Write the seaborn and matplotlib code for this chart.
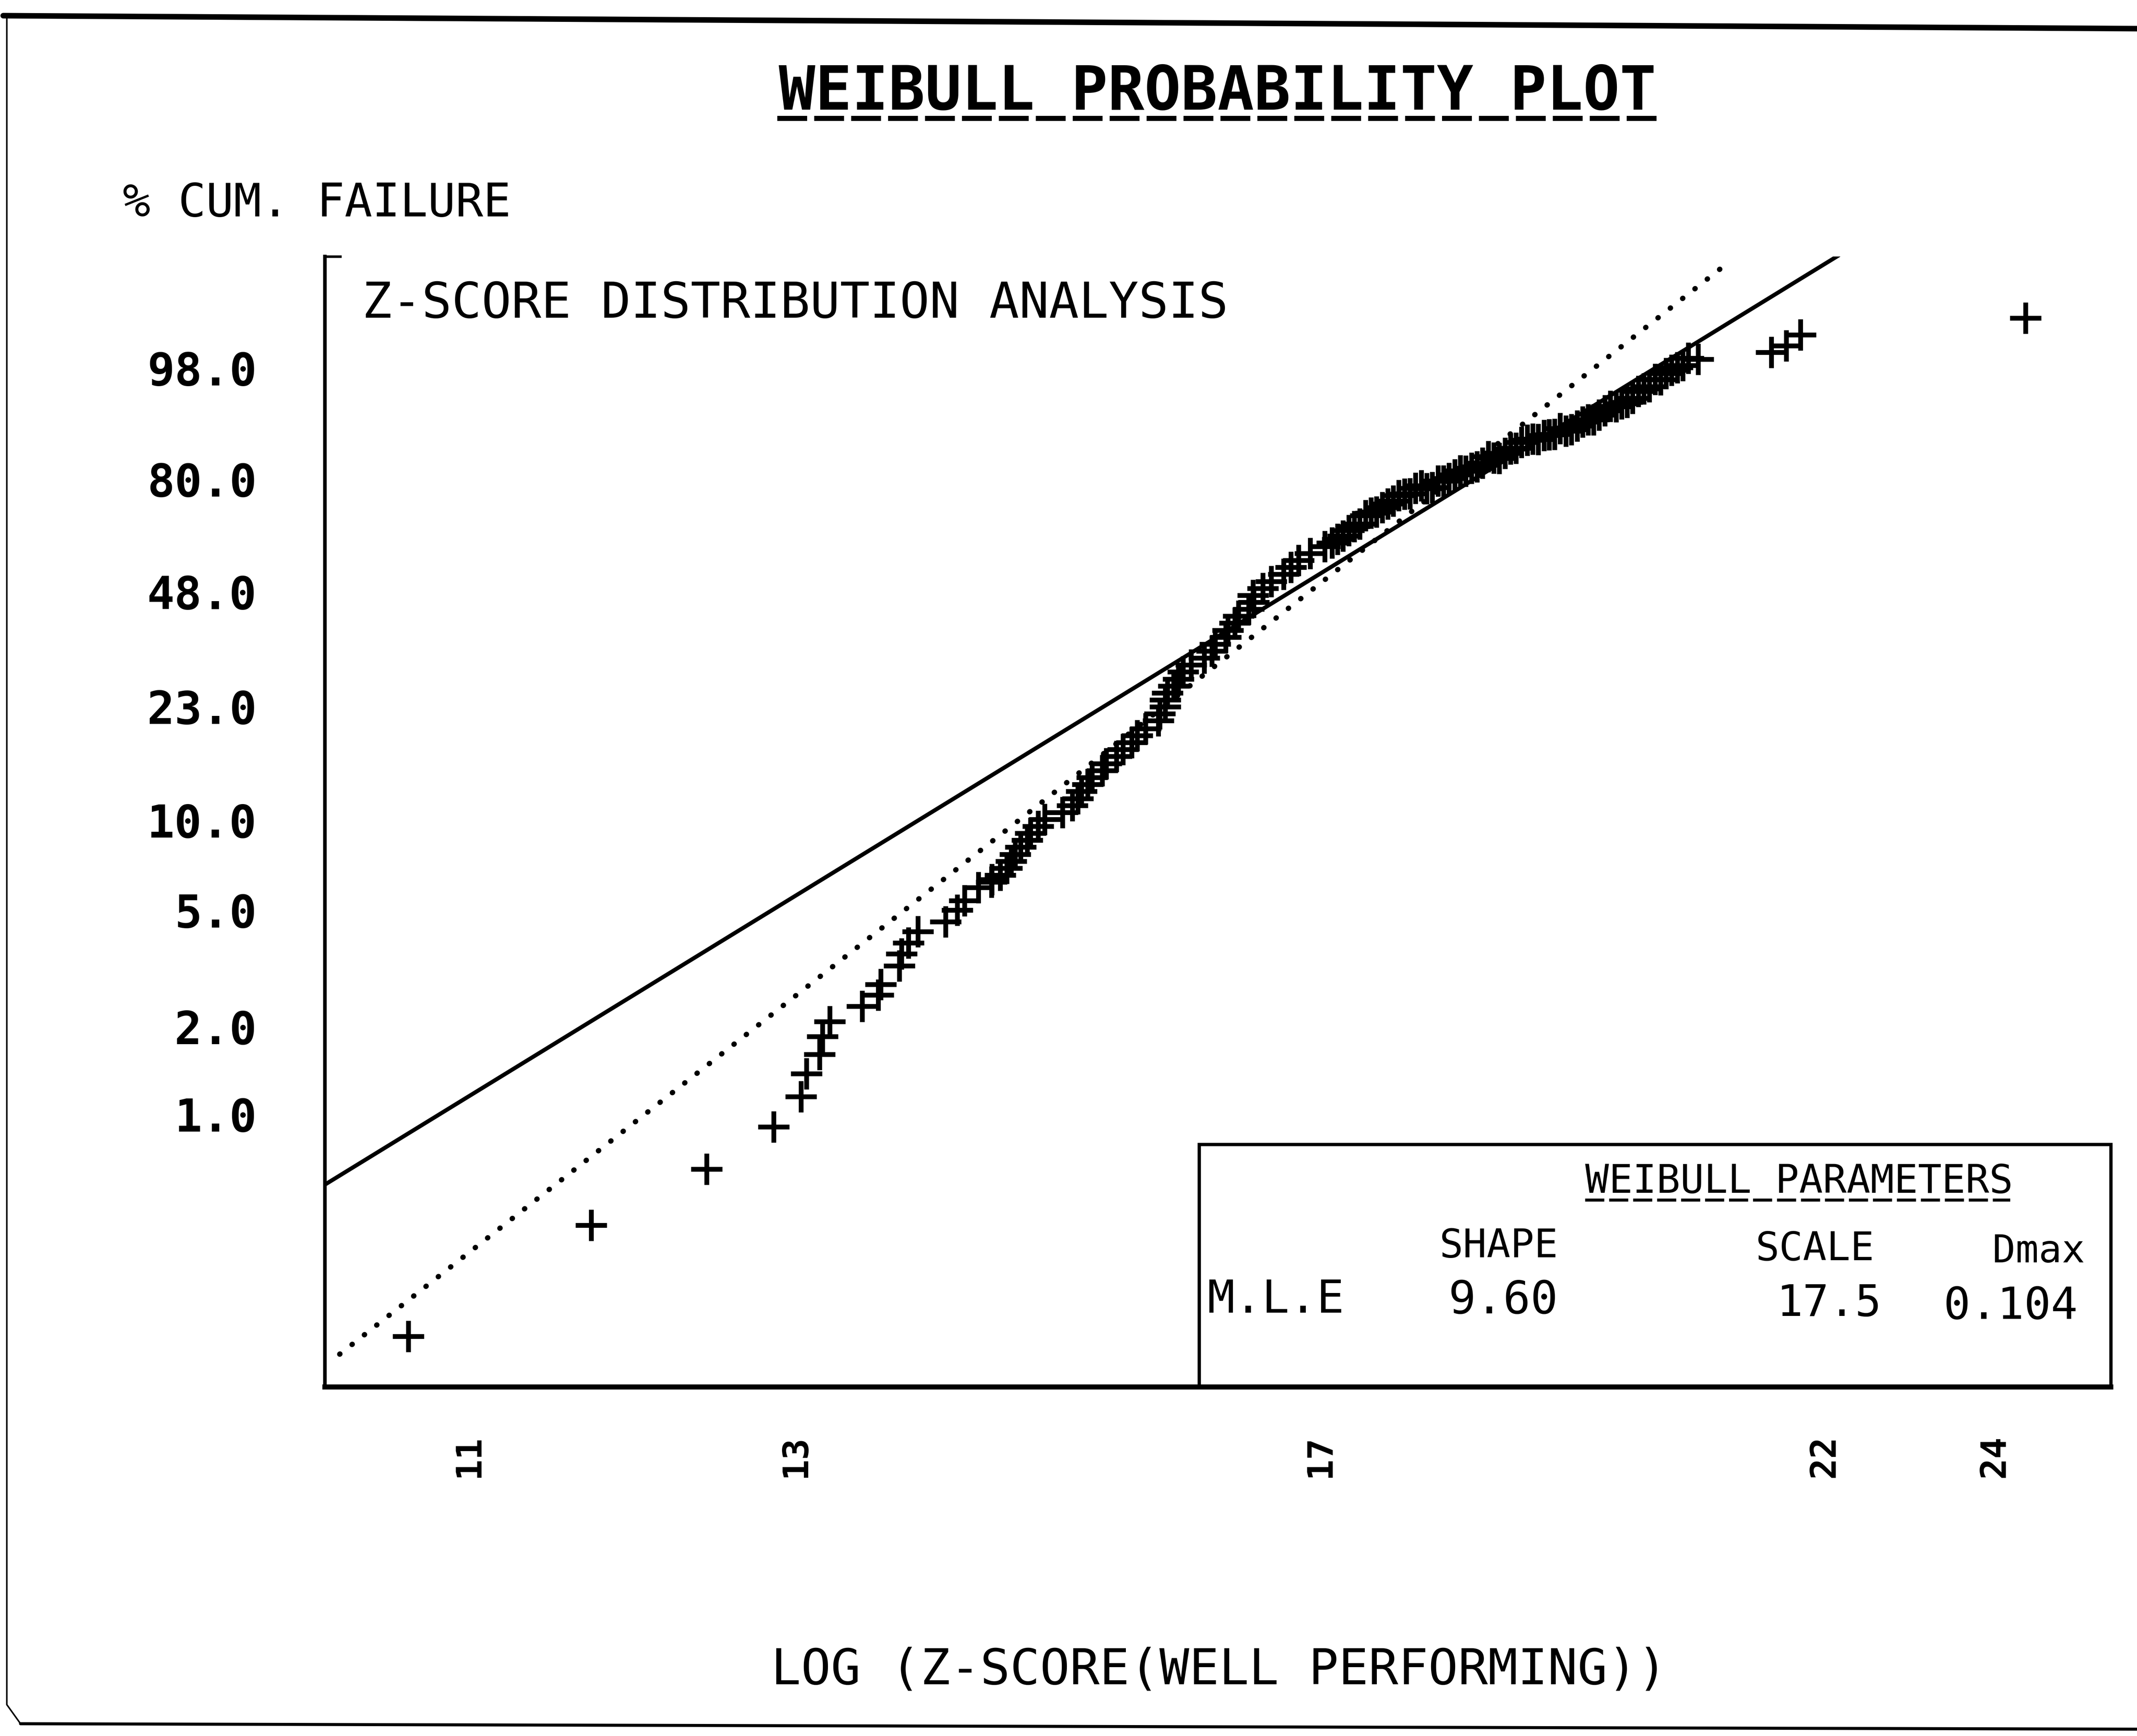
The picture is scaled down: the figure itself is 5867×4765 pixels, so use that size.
import numpy as np
import pandas as pd
import matplotlib
matplotlib.use("Agg")
import matplotlib.pyplot as plt
from matplotlib.lines import Line2D
from matplotlib.patches import Rectangle
from matplotlib.ticker import NullLocator
import seaborn as sns

# ---------------------------------------------------------------- data
# ranked observations: Z-score vs cumulative failure (%)
low_tail_z = [10.665, 11.710, 12.421, 12.856, 13.035, 13.072, 13.159, 13.181,
              13.228, 13.450, 13.562, 13.579, 13.708, 13.724, 13.773, 13.839,
              14.036, 14.121, 14.172, 14.273, 14.373]
low_tail_pct = [0.170, 0.412, 0.646, 0.904, 1.148, 1.378, 1.606, 1.854,
                2.083, 2.351, 2.570, 2.798, 3.239, 3.559, 3.873, 4.236,
                4.569, 5.002, 5.393, 5.964, 6.355]

lower_body_z = [14.370, 14.433, 14.483, 14.514, 14.545, 14.586, 14.635, 14.659,
                14.716, 14.766, 14.901, 14.976, 15.019, 15.045, 15.093, 15.126,
                15.207, 15.239, 15.316, 15.370, 15.437, 15.480, 15.547]
lower_body_pct = [6.228, 6.573, 6.936, 7.317, 7.719, 8.150, 8.596, 9.065,
                  9.558, 10.08, 10.62, 11.19, 11.79, 12.44, 13.10, 13.79,
                  14.52, 15.29, 16.09, 16.93, 17.80, 18.74, 19.70]

middle_body_z = [15.648, 15.660, 15.703, 15.703, 15.721, 15.772, 15.811, 15.848,
                 15.913, 16.019, 16.084, 16.110, 16.196, 16.216, 16.274, 16.304,
                 16.390, 16.431, 16.426, 16.508, 16.579, 16.685, 16.745, 16.813,
                 16.912, 17.040]
middle_body_pct = [20.82, 21.87, 22.98, 24.13, 25.31, 26.55, 27.83, 29.17,
                   30.55, 31.99, 33.50, 35.03, 36.61, 38.24, 39.92, 41.65,
                   43.42, 45.27, 47.12, 49.01, 50.94, 52.90, 54.88, 56.89,
                   58.92, 60.98]

upper_body_z = [17.102, 17.151, 17.200, 17.249, 17.298, 17.348, 17.397, 17.447,
                17.497, 17.547, 17.597, 17.647, 17.697, 17.748, 17.798, 17.849,
                17.900, 17.952, 18.003, 18.055, 18.106, 18.157, 18.209, 18.261,
                18.313, 18.366, 18.418, 18.471, 18.524, 18.577, 18.630, 18.683,
                18.737, 18.789, 18.843, 18.897, 18.950, 19.005, 19.059]
upper_body_pct = [62.08, 63.12, 64.04, 65.68, 66.80, 67.60, 70.06, 70.77,
                  71.05, 72.37, 73.37, 74.21, 75.69, 76.06, 76.14, 77.65,
                  78.30, 77.57, 77.87, 79.59, 79.59, 80.22, 81.19, 82.14,
                  82.07, 82.80, 83.17, 83.98, 85.51, 85.20, 85.11, 86.20,
                  87.17, 87.29, 88.51, 88.94, 89.15, 89.08, 89.82]

top_body_z = [19.110, 19.164, 19.219, 19.274, 19.329, 19.385, 19.440, 19.494,
              19.550, 19.606, 19.662, 19.718, 19.775, 19.831, 19.888, 19.945,
              20.002, 20.059, 20.115, 20.173, 20.230, 20.288, 20.346, 20.405,
              20.463, 20.521, 20.623]
top_body_pct = [89.95, 90.02, 91.07, 90.67, 90.91, 91.49, 92.18, 92.54,
                92.50, 93.24, 93.83, 94.44, 94.38, 94.74, 94.91, 95.41,
                96.15, 96.38, 96.58, 97.21, 97.18, 97.65, 97.87, 98.05,
                98.17, 98.57, 98.51]

high_tail_z = [21.408, 21.573, 21.731, 24.381]
high_tail_pct = [98.82, 99.07, 99.40, 99.71]

# maximum-likelihood Weibull fit (solid line)
mle_shape = 9.60
mle_scale = 17.5
mle_dmax = 0.104
mle_z_span = [10.22, 22.16]

# reference straight line (dotted)
ref_line_z = [10.297, 20.862]
ref_line_pct = [0.1473, 99.983]

x_ticks = [11, 13, 17, 22, 24]
x_tick_labels = ["11", "13", "17", "22", "24"]
y_ticks = [1.0, 2.0, 5.0, 10.0, 23.0, 48.0, 80.0, 98.0]
y_tick_labels = ["1.0", "2.0", "5.0", "10.0", "23.0", "48.0", "80.0", "98.0"]

x_limits = (10.22, 25.47)
y_limits = (0.1134, 99.993)

# ---------------------------------------------------------------- style
sns.set_style("white")
MONO = ["DejaVu Sans Mono", "DejaVu Sans"]
plt.rcParams["font.family"] = MONO
plt.rcParams["text.color"] = "black"


def weibull_fwd(p):
    p = np.clip(np.asarray(p, dtype=float) / 100.0, 1e-12, 1 - 1e-12)
    return np.log(-np.log1p(-p))


def weibull_inv(w):
    return 100.0 * (-np.expm1(-np.exp(np.asarray(w, dtype=float))))


fig = plt.figure(figsize=(58.67, 47.65), dpi=100)
fig.patch.set_facecolor("white")
ax = fig.add_axes([0.1521, 0.2011, 0.8357, 0.6512])
ax.set_facecolor("white")
ax.set_xscale("log")
ax.set_yscale("function", functions=(weibull_fwd, weibull_inv))

# ---------------------------------------------------------------- marks
points = pd.DataFrame({
    "z": low_tail_z + lower_body_z + middle_body_z + upper_body_z
         + top_body_z + high_tail_z,
    "pct": low_tail_pct + lower_body_pct + middle_body_pct + upper_body_pct
           + top_body_pct + high_tail_pct,
})

fit_z = np.geomspace(mle_z_span[0], mle_z_span[1], 400)
fit_pct = 100.0 * (1.0 - np.exp(-(fit_z / mle_scale) ** mle_shape))
sns.lineplot(x=fit_z, y=fit_pct, color="black", linewidth=8,
             estimator=None, sort=False, ax=ax, zorder=2)

sns.lineplot(x=ref_line_z, y=ref_line_pct, color="black", linewidth=10.5,
             linestyle=(0, (0.05, 2.9)), dash_capstyle="round",
             estimator=None, sort=False, ax=ax, zorder=2)

sns.scatterplot(data=points, x="z", y="pct", marker="+", s=62 ** 2,
                color="black", linewidth=9.5, ax=ax, zorder=3, legend=False)

# ---------------------------------------------------------------- axes
ax.set_xlim(*x_limits)
ax.set_ylim(*y_limits)
ax.set_xlabel("")
ax.set_ylabel("")
ax.grid(False)

ax.set_xticks(x_ticks)
ax.set_xticklabels(x_tick_labels, rotation=90, fontsize=70,
                   fontweight="bold", family=MONO)
ax.xaxis.set_minor_locator(NullLocator())
ax.set_yticks(y_ticks)
ax.set_yticklabels(y_tick_labels, fontsize=90, fontweight="bold", family=MONO)
ax.yaxis.set_minor_locator(NullLocator())

ax.tick_params(axis="y", direction="out", length=53, width=6, pad=82,
               colors="black")
ax.tick_params(axis="x", direction="inout", length=51, width=4, pad=70,
               colors="black")

ax.spines["right"].set_visible(False)
ax.spines["left"].set_linewidth(7)
ax.spines["bottom"].set_linewidth(10)
ax.spines["top"].set_linewidth(5)
ax.spines["top"].set_bounds(x_limits[0], 10.30)
for s in ("left", "bottom", "top"):
    ax.spines[s].set_color("black")

# parameter table frame
ax.add_patch(Rectangle((0.4894, 0.0), 0.5106, 0.2147, transform=ax.transAxes,
                       fill=False, edgecolor="black", linewidth=6.5,
                       clip_on=False, zorder=4))

# ---------------------------------------------------------------- text
def ftext(x, y, s, size, weight="normal", ha="left"):
    fig.text(x, y, s, fontsize=size, fontweight=weight, ha=ha,
             va="baseline", family=MONO, color="black")


ftext(0.5697, 0.93684, "WEIBULL PROBABILITY PLOT", 120, weight="bold",
      ha="center")
fig.add_artist(Line2D([0.3638, 0.7755], [0.93184, 0.93184],
                      transform=fig.transFigure, color="black",
                      linewidth=10, linestyle=(0, (5.9, 1.4)),
                      solid_capstyle="butt"))

ftext(0.0574, 0.87526, "% CUM. FAILURE", 91)
ftext(0.16945, 0.81697, "Z-SCORE DISTRIBUTION ANALYSIS", 98)
ftext(0.57047, 0.02985, "LOG (Z-SCORE(WELL PERFORMING))", 98, ha="center")

ftext(0.74171, 0.31296, "WEIBULL PARAMETERS", 78)
fig.add_artist(Line2D([0.74171, 0.94069], [0.30872, 0.30872],
                      transform=fig.transFigure, color="black",
                      linewidth=6, linestyle=(0, (6.3, 1.6))))
ftext(0.67347, 0.27573, "SHAPE", 78)
ftext(0.82143, 0.27416, "SCALE", 78)
ftext(0.93240, 0.27290, "Dmax", 76)
ftext(0.56505, 0.24391, "M.L.E", 90)
ftext(0.67768, 0.24352, f"{mle_shape:.2f}", 90)
ftext(0.83138, 0.24195, f"{mle_scale:.1f}", 86)
ftext(0.90944, 0.24038, f"{mle_dmax:.3f}", 88)

# ---------------------------------------------------------------- page frame
frame = dict(transform=fig.transFigure, color="black", solid_capstyle="round")
fig.add_artist(Line2D([0.0015, 1.0], [0.99097, 0.98350], linewidth=11, **frame))
fig.add_artist(Line2D([0.00319, 0.00319, 0.0096], [0.99097, 0.01807, 0.00707],
                      linewidth=3, **frame))
fig.add_artist(Line2D([0.0096, 1.0], [0.00707, 0.00393], linewidth=6, **frame))

fig.savefig("out.png", dpi=100, facecolor="white")
